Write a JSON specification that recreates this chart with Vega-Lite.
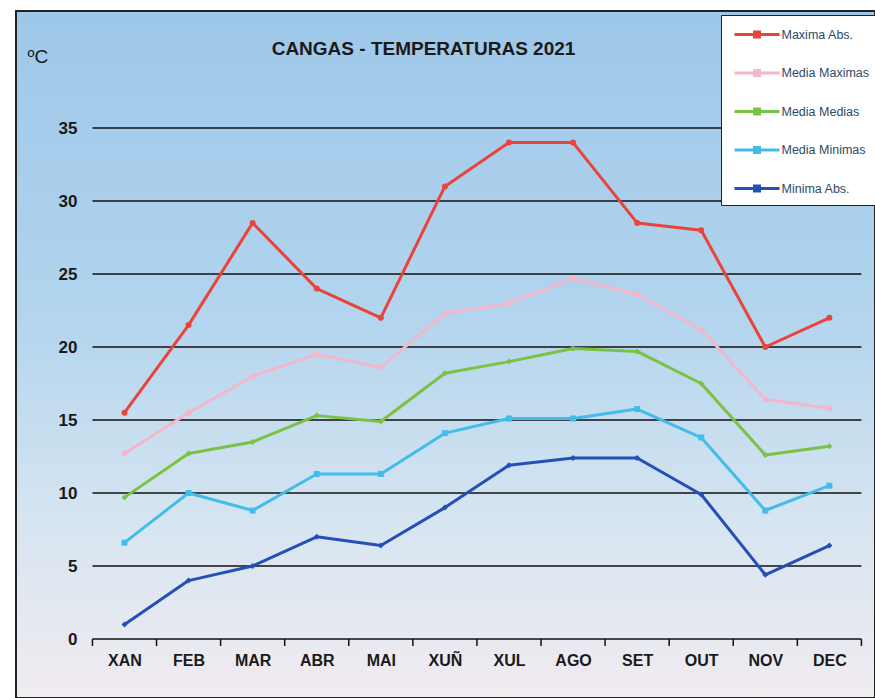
{
  "$schema": "https://vega.github.io/schema/vega-lite/v6.json",
  "width": 859,
  "height": 687,
  "autosize": {"type": "none"},
  "padding": {"left": 16, "top": 11, "right": 0, "bottom": 0},
  "background": "white",
  "title": {"text": "CANGAS - TEMPERATURAS 2021", "font": "Liberation Sans", "fontSize": 19, "fontWeight": "bold", "color": "#1a1a1a", "anchor": "middle", "frame": "group", "offset": -48, "dx": -22},
  "config": {
    "view": {
      "fill": {"gradient": "linear", "x1": 0, "y1": 0, "x2": 0, "y2": 1, "stops": [{"offset": 0, "color": "#9dc7e9"}, {"offset": 0.45, "color": "#b3d5ee"}, {"offset": 0.75, "color": "#d7e5f1"}, {"offset": 1, "color": "#f1ecf0"}]},
      "stroke": "#222222",
      "strokeWidth": 2
    }
  },
  "resolve": {"legend": {"color": "independent", "shape": "independent"}},
  "datasets": {
    "grid": [{"g": 0}, {"g": 5}, {"g": 10}, {"g": 15}, {"g": 20}, {"g": 25}, {"g": 30}, {"g": 35}],
    "ticks": [{"k": -0.5}, {"k": 0.5}, {"k": 1.5}, {"k": 2.5}, {"k": 3.5}, {"k": 4.5}, {"k": 5.5}, {"k": 6.5}, {"k": 7.5}, {"k": 8.5}, {"k": 9.5}, {"k": 10.5}, {"k": 11.5}],
    "temps": [
      {"i": 0, "s": "Maxima Abs.", "t": 15.5}, {"i": 1, "s": "Maxima Abs.", "t": 21.5}, {"i": 2, "s": "Maxima Abs.", "t": 28.5}, {"i": 3, "s": "Maxima Abs.", "t": 24}, {"i": 4, "s": "Maxima Abs.", "t": 22}, {"i": 5, "s": "Maxima Abs.", "t": 31}, {"i": 6, "s": "Maxima Abs.", "t": 34}, {"i": 7, "s": "Maxima Abs.", "t": 34}, {"i": 8, "s": "Maxima Abs.", "t": 28.5}, {"i": 9, "s": "Maxima Abs.", "t": 28}, {"i": 10, "s": "Maxima Abs.", "t": 20}, {"i": 11, "s": "Maxima Abs.", "t": 22},
      {"i": 0, "s": "Media Maximas", "t": 12.7}, {"i": 1, "s": "Media Maximas", "t": 15.5}, {"i": 2, "s": "Media Maximas", "t": 18}, {"i": 3, "s": "Media Maximas", "t": 19.5}, {"i": 4, "s": "Media Maximas", "t": 18.6}, {"i": 5, "s": "Media Maximas", "t": 22.3}, {"i": 6, "s": "Media Maximas", "t": 23}, {"i": 7, "s": "Media Maximas", "t": 24.7}, {"i": 8, "s": "Media Maximas", "t": 23.6}, {"i": 9, "s": "Media Maximas", "t": 21.2}, {"i": 10, "s": "Media Maximas", "t": 16.4}, {"i": 11, "s": "Media Maximas", "t": 15.8},
      {"i": 0, "s": "Media Medias", "t": 9.7}, {"i": 1, "s": "Media Medias", "t": 12.7}, {"i": 2, "s": "Media Medias", "t": 13.5}, {"i": 3, "s": "Media Medias", "t": 15.3}, {"i": 4, "s": "Media Medias", "t": 14.9}, {"i": 5, "s": "Media Medias", "t": 18.2}, {"i": 6, "s": "Media Medias", "t": 19}, {"i": 7, "s": "Media Medias", "t": 19.9}, {"i": 8, "s": "Media Medias", "t": 19.7}, {"i": 9, "s": "Media Medias", "t": 17.5}, {"i": 10, "s": "Media Medias", "t": 12.6}, {"i": 11, "s": "Media Medias", "t": 13.2},
      {"i": 0, "s": "Media Minimas", "t": 6.6}, {"i": 1, "s": "Media Minimas", "t": 10}, {"i": 2, "s": "Media Minimas", "t": 8.8}, {"i": 3, "s": "Media Minimas", "t": 11.3}, {"i": 4, "s": "Media Minimas", "t": 11.3}, {"i": 5, "s": "Media Minimas", "t": 14.1}, {"i": 6, "s": "Media Minimas", "t": 15.1}, {"i": 7, "s": "Media Minimas", "t": 15.1}, {"i": 8, "s": "Media Minimas", "t": 15.75}, {"i": 9, "s": "Media Minimas", "t": 13.8}, {"i": 10, "s": "Media Minimas", "t": 8.8}, {"i": 11, "s": "Media Minimas", "t": 10.5},
      {"i": 0, "s": "Minima Abs.", "t": 1}, {"i": 1, "s": "Minima Abs.", "t": 4}, {"i": 2, "s": "Minima Abs.", "t": 5}, {"i": 3, "s": "Minima Abs.", "t": 7}, {"i": 4, "s": "Minima Abs.", "t": 6.4}, {"i": 5, "s": "Minima Abs.", "t": 9}, {"i": 6, "s": "Minima Abs.", "t": 11.9}, {"i": 7, "s": "Minima Abs.", "t": 12.4}, {"i": 8, "s": "Minima Abs.", "t": 12.4}, {"i": 9, "s": "Minima Abs.", "t": 9.9}, {"i": 10, "s": "Minima Abs.", "t": 4.4}, {"i": 11, "s": "Minima Abs.", "t": 6.4}
    ]
  },
  "layer": [
    {
      "data": {"name": "grid"},
      "mark": {"type": "rule", "color": "#111111", "strokeWidth": 1.6},
      "encoding": {
        "x": {"datum": -0.5, "type": "quantitative"},
        "x2": {"datum": 11.5},
        "y": {"field": "g", "type": "quantitative"}
      }
    },
    {
      "data": {"name": "ticks"},
      "mark": {"type": "rule", "color": "#111111", "strokeWidth": 1.5},
      "encoding": {
        "x": {"field": "k", "type": "quantitative"},
        "y": {"datum": 0, "type": "quantitative"},
        "y2": {"datum": -0.48}
      }
    },
    {
      "data": {"name": "temps"},
      "mark": {"type": "line", "strokeWidth": 3, "strokeJoin": "round"},
      "encoding": {
        "x": {
          "field": "i", "type": "quantitative",
          "scale": {"domain": [-1.693, 11.712], "nice": false, "zero": false},
          "axis": {
            "values": [0, 1, 2, 3, 4, 5, 6, 7, 8, 9, 10, 11],
            "labelExpr": "datum.value == 0 ? 'XAN' : datum.value == 1 ? 'FEB' : datum.value == 2 ? 'MAR' : datum.value == 3 ? 'ABR' : datum.value == 4 ? 'MAI' : datum.value == 5 ? 'XUÑ' : datum.value == 6 ? 'XUL' : datum.value == 7 ? 'AGO' : datum.value == 8 ? 'SET' : datum.value == 9 ? 'OUT' : datum.value == 10 ? 'NOV' : 'DEC'",
            "title": null, "grid": false, "domain": false, "ticks": false, "tickSize": 0,
            "offset": -59, "labelPadding": 13, "labelFlush": false, "labelOverlap": false, "labelBound": false,
            "labelFont": "Liberation Sans", "labelFontSize": 16, "labelFontWeight": "bold", "labelColor": "#1a1a1a"
          }
        },
        "y": {
          "field": "t", "type": "quantitative",
          "scale": {"domain": [-4.041, 43.014], "nice": false, "zero": false},
          "axis": {
            "values": [0, 5, 10, 15, 20, 25, 30, 35],
            "grid": false, "domain": false, "ticks": false, "tickSize": 0,
            "offset": -61, "labelPadding": 0,
            "labelFont": "Liberation Sans", "labelFontSize": 17, "labelFontWeight": "bold", "labelColor": "#1a1a1a",
            "title": "ºC", "titleAngle": 0, "titleX": -50, "titleY": 51, "titleAlign": "left", "titleBaseline": "alphabetic",
            "titleFont": "Liberation Sans", "titleFontSize": 19, "titleFontWeight": "normal", "titleColor": "#1a1a1a"
          }
        },
        "color": {
          "field": "s", "type": "nominal",
          "scale": {"domain": ["Maxima Abs.", "Media Maximas", "Media Medias", "Media Minimas", "Minima Abs."], "range": ["#e8443a", "#f3b6ca", "#7cc242", "#43bde8", "#2450b5"]},
          "legend": {
            "title": null, "orient": "none", "legendX": 705, "legendY": 4,
            "fillColor": "white", "strokeColor": "#222222", "padding": 8,
            "symbolType": "M-2.25,0H2.25M-0.25,-0.25H0.25V0.25H-0.25Z", "symbolSize": 400, "symbolStrokeWidth": 3,
            "symbolOffset": 16.5, "labelOffset": 13,
            "rowPadding": 18.5,
            "labelFont": "Liberation Sans", "labelFontSize": 12.5, "labelColor": "#2f4a66"
          }
        }
      }
    },
    {
      "data": {"name": "temps"},
      "mark": {"type": "point", "filled": true, "size": 36, "opacity": 1},
      "encoding": {
        "x": {"field": "i", "type": "quantitative"},
        "y": {"field": "t", "type": "quantitative"},
        "color": {"field": "s", "type": "nominal", "legend": null},
        "shape": {"field": "s", "type": "nominal", "legend": null, "scale": {"domain": ["Maxima Abs.", "Media Maximas", "Media Medias", "Media Minimas", "Minima Abs."], "range": ["circle", "circle", "diamond", "square", "diamond"]}}
      }
    }
  ]
}
